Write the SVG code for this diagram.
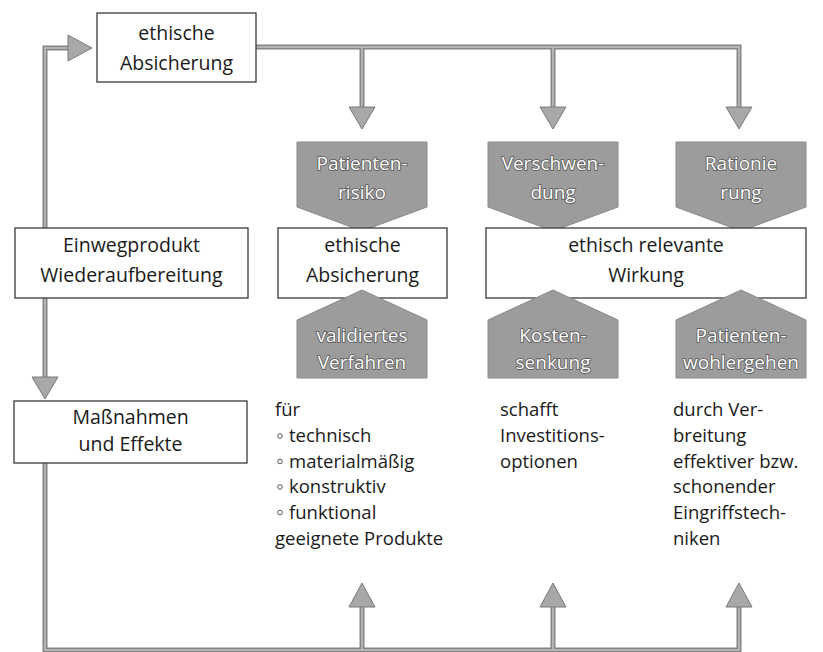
<svg xmlns="http://www.w3.org/2000/svg" width="823" height="652" viewBox="0 0 823 652">
<defs>
<style>
.box{fill:#fff;stroke:#3a3a3a;stroke-width:1.3}
.t{font-family:"Open Sans","Noto Sans","Liberation Sans",sans-serif;font-size:19.5px;fill:#1a1a1a}
.s{font-size:18.5px}
.c{text-anchor:middle}
.pent{fill:#9c9c9c;stroke:#8a8a8a;stroke-width:1}
.pt{font-family:"Open Sans","Noto Sans","Liberation Sans",sans-serif;font-size:19px;fill:#ffffff;stroke:#555555;stroke-width:1.6;paint-order:stroke;text-anchor:middle}
.ln{fill:none;stroke:#858585;stroke-width:5}
.lni{fill:none;stroke:#c4c4c4;stroke-width:1.5}
.ah{fill:#a8a8a8;stroke:#7a7a7a;stroke-width:1}
.bul{fill:none;stroke:#555;stroke-width:1}
</style>
</defs>
<rect width="823" height="652" fill="#ffffff"/>

<g id="connectors">
<path class="ln" d="M45,228 V48 H70 M256,47 H739 V108 M362,47 V108 M553,47 V108 M45,298 V378 M45,463 V650 H739 V606 M362,650 V606 M553,650 V606"/>
<path class="lni" d="M45,228 V48 H70 M256,47 H739 V108 M362,47 V108 M553,47 V108 M45,298 V378 M45,463 V650 H739 V606 M362,650 V606 M553,650 V606"/>
<polygon class="ah" points="68,35 92,48 68,61"/>
<polygon class="ah" points="349,107 375,107 362,129"/>
<polygon class="ah" points="540,107 566,107 553,129"/>
<polygon class="ah" points="726,107 752,107 739,129"/>
<polygon class="ah" points="32,377 58,377 45,399"/>
<polygon class="ah" points="349,607 375,607 362,583"/>
<polygon class="ah" points="540,607 566,607 553,583"/>
<polygon class="ah" points="726,607 752,607 739,583"/>
</g>

<g id="top-ethische-absicherung">
<rect class="box" x="97" y="13" width="159" height="69"/>
<text class="t c" x="176.5" y="40">ethische</text>
<text class="t c" x="176.5" y="70">Absicherung</text>
</g>

<g id="einwegprodukt">
<rect class="box" x="15" y="228" width="233" height="70"/>
<text class="t c" x="131.5" y="252">Einwegprodukt</text>
<text class="t c" x="131.5" y="282">Wiederaufbereitung</text>
</g>

<g id="massnahmen">
<rect class="box" x="14" y="401" width="233" height="62"/>
<text class="t c" x="130.5" y="424">Maßnahmen</text>
<text class="t c" x="130.5" y="451">und Effekte</text>
</g>

<g id="patientenrisiko">
<polygon class="pent" points="297,142 427,142 427,207 362,231 297,207"/>
<text class="pt" x="362" y="170">Patienten-</text>
<text class="pt" x="362" y="199">risiko</text>
</g>

<g id="verschwendung">
<polygon class="pent" points="488,142 618,142 618,207 553,231 488,207"/>
<text class="pt" x="553" y="170">Verschwen-</text>
<text class="pt" x="553" y="199">dung</text>
</g>

<g id="rationierung">
<polygon class="pent" points="676,142 806,142 806,207 741,231 676,207"/>
<text class="pt" x="741" y="170">Rationie</text>
<text class="pt" x="741" y="199">rung</text>
</g>

<g id="mid-ethische-absicherung">
<rect class="box" x="278" y="228" width="169" height="70"/>
<text class="t c" x="362.5" y="252">ethische</text>
<text class="t c" x="362.5" y="282">Absicherung</text>
</g>

<g id="ethisch-relevante-wirkung">
<rect class="box" x="486" y="228" width="320" height="70"/>
<text class="t c" x="646" y="252">ethisch relevante</text>
<text class="t c" x="646" y="282">Wirkung</text>
</g>

<g id="validiertes-verfahren">
<polygon class="pent" points="362,290 427,320 427,378 297,378 297,320"/>
<text class="pt" x="362" y="342">validiertes</text>
<text class="pt" x="362" y="369">Verfahren</text>
</g>

<g id="kostensenkung">
<polygon class="pent" points="553,290 618,320 618,378 488,378 488,320"/>
<text class="pt" x="553" y="342">Kosten-</text>
<text class="pt" x="553" y="369">senkung</text>
</g>

<g id="patientenwohlergehen">
<polygon class="pent" points="741,290 806,320 806,378 676,378 676,320"/>
<text class="pt" x="741" y="342">Patienten-</text>
<text class="pt" x="741" y="369">wohlergehen</text>
</g>

<g id="text-fuer">
<text class="t s" x="275" y="416">für</text>
<circle class="bul" cx="280" cy="436" r="2.3"/>
<text class="t s" x="289" y="442">technisch</text>
<circle class="bul" cx="280" cy="461.5" r="2.3"/>
<text class="t s" x="289" y="467.5">materialmäßig</text>
<circle class="bul" cx="280" cy="487" r="2.3"/>
<text class="t s" x="289" y="493">konstruktiv</text>
<circle class="bul" cx="280" cy="512.5" r="2.3"/>
<text class="t s" x="289" y="518.5">funktional</text>
<text class="t s" x="275" y="545">geeignete Produkte</text>
</g>

<g id="text-schafft">
<text class="t s" x="500" y="416">schafft</text>
<text class="t s" x="500" y="442">Investitions-</text>
<text class="t s" x="500" y="467.5">optionen</text>
</g>

<g id="text-durch">
<text class="t s" x="673" y="416">durch Ver-</text>
<text class="t s" x="673" y="442">breitung</text>
<text class="t s" x="673" y="467.5">effektiver bzw.</text>
<text class="t s" x="673" y="493">schonender</text>
<text class="t s" x="673" y="518.5">Eingriffstech-</text>
<text class="t s" x="673" y="545">niken</text>
</g>
</svg>
